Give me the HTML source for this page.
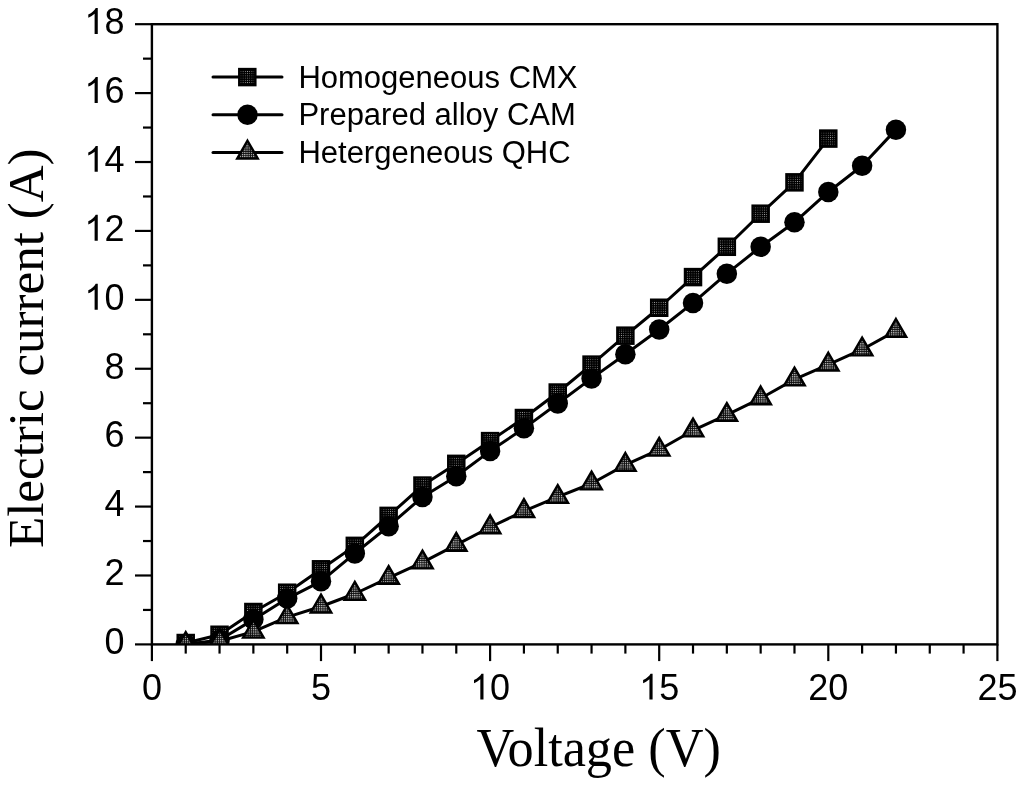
<!DOCTYPE html>
<html><head><meta charset="utf-8"><title>Electric current vs Voltage</title>
<style>
html,body{margin:0;padding:0;background:#fff;}
body{width:1024px;height:785px;overflow:hidden;}
svg{display:block;}
svg{will-change:transform;}
.t{font-family:"Liberation Sans",sans-serif;font-size:36px;fill:#000;}
.l{font-family:"Liberation Sans",sans-serif;font-size:31px;fill:#000;}
.s{font-family:"Liberation Serif",serif;font-size:52px;fill:#000;}
</style></head>
<body>
<svg width="1024" height="785" viewBox="0 0 1024 785">
<rect width="1024" height="785" fill="#fff"/>
<defs>
<pattern id="psq" width="2.2" height="2.2" patternUnits="userSpaceOnUse"><rect width="2.2" height="2.2" fill="#000"/><rect x="0.7" y="0.7" width="0.8" height="0.8" fill="#9a9a9a"/></pattern>
<pattern id="ptr" width="2.2" height="2.2" patternUnits="userSpaceOnUse"><rect width="2.2" height="2.2" fill="#0c0c0c"/><rect width="1.2" height="1.2" fill="#c8c8c8"/></pattern>
<clipPath id="clip"><rect x="151.9" y="24.2" width="845.5" height="620.2"/></clipPath>
</defs>
<g clip-path="url(#clip)">
<polyline points="185.72,643.02 219.54,634.75 253.36,612.01 287.18,592.72 321.00,569.29 354.82,545.86 388.64,515.88 422.46,485.56 456.28,463.85 490.10,441.11 523.92,418.02 557.74,392.53 591.56,364.62 625.38,335.67 659.20,307.76 693.02,277.10 726.84,246.78 760.66,213.70 794.48,182.35 828.30,138.59" fill="none" stroke="#000" stroke-width="3.0" stroke-linejoin="round" stroke-linecap="round"/>
<rect x="177.67" y="634.97" width="16.10" height="16.10" fill="url(#psq)" stroke="#000" stroke-width="2.4"/>
<rect x="211.49" y="626.70" width="16.10" height="16.10" fill="url(#psq)" stroke="#000" stroke-width="2.4"/>
<rect x="245.31" y="603.96" width="16.10" height="16.10" fill="url(#psq)" stroke="#000" stroke-width="2.4"/>
<rect x="279.13" y="584.67" width="16.10" height="16.10" fill="url(#psq)" stroke="#000" stroke-width="2.4"/>
<rect x="312.95" y="561.24" width="16.10" height="16.10" fill="url(#psq)" stroke="#000" stroke-width="2.4"/>
<rect x="346.77" y="537.81" width="16.10" height="16.10" fill="url(#psq)" stroke="#000" stroke-width="2.4"/>
<rect x="380.59" y="507.83" width="16.10" height="16.10" fill="url(#psq)" stroke="#000" stroke-width="2.4"/>
<rect x="414.41" y="477.51" width="16.10" height="16.10" fill="url(#psq)" stroke="#000" stroke-width="2.4"/>
<rect x="448.23" y="455.80" width="16.10" height="16.10" fill="url(#psq)" stroke="#000" stroke-width="2.4"/>
<rect x="482.05" y="433.06" width="16.10" height="16.10" fill="url(#psq)" stroke="#000" stroke-width="2.4"/>
<rect x="515.87" y="409.97" width="16.10" height="16.10" fill="url(#psq)" stroke="#000" stroke-width="2.4"/>
<rect x="549.69" y="384.48" width="16.10" height="16.10" fill="url(#psq)" stroke="#000" stroke-width="2.4"/>
<rect x="583.51" y="356.57" width="16.10" height="16.10" fill="url(#psq)" stroke="#000" stroke-width="2.4"/>
<rect x="617.33" y="327.62" width="16.10" height="16.10" fill="url(#psq)" stroke="#000" stroke-width="2.4"/>
<rect x="651.15" y="299.71" width="16.10" height="16.10" fill="url(#psq)" stroke="#000" stroke-width="2.4"/>
<rect x="684.97" y="269.05" width="16.10" height="16.10" fill="url(#psq)" stroke="#000" stroke-width="2.4"/>
<rect x="718.79" y="238.73" width="16.10" height="16.10" fill="url(#psq)" stroke="#000" stroke-width="2.4"/>
<rect x="752.61" y="205.65" width="16.10" height="16.10" fill="url(#psq)" stroke="#000" stroke-width="2.4"/>
<rect x="786.43" y="174.30" width="16.10" height="16.10" fill="url(#psq)" stroke="#000" stroke-width="2.4"/>
<rect x="820.25" y="130.54" width="16.10" height="16.10" fill="url(#psq)" stroke="#000" stroke-width="2.4"/>
<polyline points="185.72,644.40 219.54,639.92 253.36,619.59 287.18,598.57 321.00,581.35 354.82,553.44 388.64,526.22 422.46,496.93 456.28,476.25 490.10,451.10 523.92,428.36 557.74,403.55 591.56,378.40 625.38,354.28 659.20,329.47 693.02,302.94 726.84,273.65 760.66,246.78 794.48,222.31 828.30,191.99 862.12,165.81 895.94,129.63" fill="none" stroke="#000" stroke-width="3.0" stroke-linejoin="round" stroke-linecap="round"/>
<circle cx="185.72" cy="644.40" r="10.25" fill="#000"/>
<circle cx="219.54" cy="639.92" r="10.25" fill="#000"/>
<circle cx="253.36" cy="619.59" r="10.25" fill="#000"/>
<circle cx="287.18" cy="598.57" r="10.25" fill="#000"/>
<circle cx="321.00" cy="581.35" r="10.25" fill="#000"/>
<circle cx="354.82" cy="553.44" r="10.25" fill="#000"/>
<circle cx="388.64" cy="526.22" r="10.25" fill="#000"/>
<circle cx="422.46" cy="496.93" r="10.25" fill="#000"/>
<circle cx="456.28" cy="476.25" r="10.25" fill="#000"/>
<circle cx="490.10" cy="451.10" r="10.25" fill="#000"/>
<circle cx="523.92" cy="428.36" r="10.25" fill="#000"/>
<circle cx="557.74" cy="403.55" r="10.25" fill="#000"/>
<circle cx="591.56" cy="378.40" r="10.25" fill="#000"/>
<circle cx="625.38" cy="354.28" r="10.25" fill="#000"/>
<circle cx="659.20" cy="329.47" r="10.25" fill="#000"/>
<circle cx="693.02" cy="302.94" r="10.25" fill="#000"/>
<circle cx="726.84" cy="273.65" r="10.25" fill="#000"/>
<circle cx="760.66" cy="246.78" r="10.25" fill="#000"/>
<circle cx="794.48" cy="222.31" r="10.25" fill="#000"/>
<circle cx="828.30" cy="191.99" r="10.25" fill="#000"/>
<circle cx="862.12" cy="165.81" r="10.25" fill="#000"/>
<circle cx="895.94" cy="129.63" r="10.25" fill="#000"/>
<polyline points="185.72,644.06 219.54,641.30 253.36,631.65 287.18,617.18 321.00,606.50 354.82,593.75 388.64,577.90 422.46,562.39 456.28,544.82 490.10,527.25 523.92,511.06 557.74,496.93 591.56,483.49 625.38,464.88 659.20,449.72 693.02,430.43 726.84,414.92 760.66,398.38 794.48,379.43 828.30,364.62 862.12,349.46 895.94,330.85" fill="none" stroke="#000" stroke-width="3.0" stroke-linejoin="round" stroke-linecap="round"/>
<path d="M185.72,632.19 L196.00,649.99 L175.44,649.99 Z" fill="url(#ptr)" stroke="#000" stroke-width="2.4" stroke-linejoin="miter"/>
<path d="M219.54,629.43 L229.82,647.23 L209.26,647.23 Z" fill="url(#ptr)" stroke="#000" stroke-width="2.4" stroke-linejoin="miter"/>
<path d="M253.36,619.78 L263.64,637.58 L243.08,637.58 Z" fill="url(#ptr)" stroke="#000" stroke-width="2.4" stroke-linejoin="miter"/>
<path d="M287.18,605.31 L297.46,623.11 L276.90,623.11 Z" fill="url(#ptr)" stroke="#000" stroke-width="2.4" stroke-linejoin="miter"/>
<path d="M321.00,594.63 L331.28,612.43 L310.72,612.43 Z" fill="url(#ptr)" stroke="#000" stroke-width="2.4" stroke-linejoin="miter"/>
<path d="M354.82,581.88 L365.10,599.68 L344.54,599.68 Z" fill="url(#ptr)" stroke="#000" stroke-width="2.4" stroke-linejoin="miter"/>
<path d="M388.64,566.03 L398.92,583.83 L378.36,583.83 Z" fill="url(#ptr)" stroke="#000" stroke-width="2.4" stroke-linejoin="miter"/>
<path d="M422.46,550.53 L432.74,568.33 L412.18,568.33 Z" fill="url(#ptr)" stroke="#000" stroke-width="2.4" stroke-linejoin="miter"/>
<path d="M456.28,532.96 L466.56,550.76 L446.00,550.76 Z" fill="url(#ptr)" stroke="#000" stroke-width="2.4" stroke-linejoin="miter"/>
<path d="M490.10,515.38 L500.38,533.18 L479.82,533.18 Z" fill="url(#ptr)" stroke="#000" stroke-width="2.4" stroke-linejoin="miter"/>
<path d="M523.92,499.19 L534.20,516.99 L513.64,516.99 Z" fill="url(#ptr)" stroke="#000" stroke-width="2.4" stroke-linejoin="miter"/>
<path d="M557.74,485.06 L568.02,502.86 L547.46,502.86 Z" fill="url(#ptr)" stroke="#000" stroke-width="2.4" stroke-linejoin="miter"/>
<path d="M591.56,471.62 L601.84,489.42 L581.28,489.42 Z" fill="url(#ptr)" stroke="#000" stroke-width="2.4" stroke-linejoin="miter"/>
<path d="M625.38,453.02 L635.66,470.82 L615.10,470.82 Z" fill="url(#ptr)" stroke="#000" stroke-width="2.4" stroke-linejoin="miter"/>
<path d="M659.20,437.86 L669.48,455.66 L648.92,455.66 Z" fill="url(#ptr)" stroke="#000" stroke-width="2.4" stroke-linejoin="miter"/>
<path d="M693.02,418.56 L703.30,436.36 L682.74,436.36 Z" fill="url(#ptr)" stroke="#000" stroke-width="2.4" stroke-linejoin="miter"/>
<path d="M726.84,403.06 L737.12,420.86 L716.56,420.86 Z" fill="url(#ptr)" stroke="#000" stroke-width="2.4" stroke-linejoin="miter"/>
<path d="M760.66,386.52 L770.94,404.32 L750.38,404.32 Z" fill="url(#ptr)" stroke="#000" stroke-width="2.4" stroke-linejoin="miter"/>
<path d="M794.48,367.57 L804.76,385.37 L784.20,385.37 Z" fill="url(#ptr)" stroke="#000" stroke-width="2.4" stroke-linejoin="miter"/>
<path d="M828.30,352.75 L838.58,370.55 L818.02,370.55 Z" fill="url(#ptr)" stroke="#000" stroke-width="2.4" stroke-linejoin="miter"/>
<path d="M862.12,337.59 L872.40,355.39 L851.84,355.39 Z" fill="url(#ptr)" stroke="#000" stroke-width="2.4" stroke-linejoin="miter"/>
<path d="M895.94,318.98 L906.22,336.78 L885.66,336.78 Z" fill="url(#ptr)" stroke="#000" stroke-width="2.4" stroke-linejoin="miter"/>
</g>
<rect x="151.9" y="24.2" width="845.50" height="620.20" fill="none" stroke="#000" stroke-width="2.4"/>
<line x1="135.00" y1="644.40" x2="151.9" y2="644.40" stroke="#000" stroke-width="2.2"/>
<line x1="143.00" y1="609.94" x2="151.9" y2="609.94" stroke="#000" stroke-width="2.2"/>
<line x1="135.00" y1="575.49" x2="151.9" y2="575.49" stroke="#000" stroke-width="2.2"/>
<line x1="143.00" y1="541.03" x2="151.9" y2="541.03" stroke="#000" stroke-width="2.2"/>
<line x1="135.00" y1="506.58" x2="151.9" y2="506.58" stroke="#000" stroke-width="2.2"/>
<line x1="143.00" y1="472.12" x2="151.9" y2="472.12" stroke="#000" stroke-width="2.2"/>
<line x1="135.00" y1="437.66" x2="151.9" y2="437.66" stroke="#000" stroke-width="2.2"/>
<line x1="143.00" y1="403.21" x2="151.9" y2="403.21" stroke="#000" stroke-width="2.2"/>
<line x1="135.00" y1="368.75" x2="151.9" y2="368.75" stroke="#000" stroke-width="2.2"/>
<line x1="143.00" y1="334.30" x2="151.9" y2="334.30" stroke="#000" stroke-width="2.2"/>
<line x1="135.00" y1="299.84" x2="151.9" y2="299.84" stroke="#000" stroke-width="2.2"/>
<line x1="143.00" y1="265.38" x2="151.9" y2="265.38" stroke="#000" stroke-width="2.2"/>
<line x1="135.00" y1="230.93" x2="151.9" y2="230.93" stroke="#000" stroke-width="2.2"/>
<line x1="143.00" y1="196.47" x2="151.9" y2="196.47" stroke="#000" stroke-width="2.2"/>
<line x1="135.00" y1="162.02" x2="151.9" y2="162.02" stroke="#000" stroke-width="2.2"/>
<line x1="143.00" y1="127.56" x2="151.9" y2="127.56" stroke="#000" stroke-width="2.2"/>
<line x1="135.00" y1="93.10" x2="151.9" y2="93.10" stroke="#000" stroke-width="2.2"/>
<line x1="143.00" y1="58.65" x2="151.9" y2="58.65" stroke="#000" stroke-width="2.2"/>
<line x1="135.00" y1="24.19" x2="151.9" y2="24.19" stroke="#000" stroke-width="2.2"/>
<line x1="151.90" y1="644.4" x2="151.90" y2="661.10" stroke="#000" stroke-width="2.2"/>
<line x1="185.72" y1="644.4" x2="185.72" y2="653.60" stroke="#000" stroke-width="2.2"/>
<line x1="219.54" y1="644.4" x2="219.54" y2="653.60" stroke="#000" stroke-width="2.2"/>
<line x1="253.36" y1="644.4" x2="253.36" y2="653.60" stroke="#000" stroke-width="2.2"/>
<line x1="287.18" y1="644.4" x2="287.18" y2="653.60" stroke="#000" stroke-width="2.2"/>
<line x1="321.00" y1="644.4" x2="321.00" y2="661.10" stroke="#000" stroke-width="2.2"/>
<line x1="354.82" y1="644.4" x2="354.82" y2="653.60" stroke="#000" stroke-width="2.2"/>
<line x1="388.64" y1="644.4" x2="388.64" y2="653.60" stroke="#000" stroke-width="2.2"/>
<line x1="422.46" y1="644.4" x2="422.46" y2="653.60" stroke="#000" stroke-width="2.2"/>
<line x1="456.28" y1="644.4" x2="456.28" y2="653.60" stroke="#000" stroke-width="2.2"/>
<line x1="490.10" y1="644.4" x2="490.10" y2="661.10" stroke="#000" stroke-width="2.2"/>
<line x1="523.92" y1="644.4" x2="523.92" y2="653.60" stroke="#000" stroke-width="2.2"/>
<line x1="557.74" y1="644.4" x2="557.74" y2="653.60" stroke="#000" stroke-width="2.2"/>
<line x1="591.56" y1="644.4" x2="591.56" y2="653.60" stroke="#000" stroke-width="2.2"/>
<line x1="625.38" y1="644.4" x2="625.38" y2="653.60" stroke="#000" stroke-width="2.2"/>
<line x1="659.20" y1="644.4" x2="659.20" y2="661.10" stroke="#000" stroke-width="2.2"/>
<line x1="693.02" y1="644.4" x2="693.02" y2="653.60" stroke="#000" stroke-width="2.2"/>
<line x1="726.84" y1="644.4" x2="726.84" y2="653.60" stroke="#000" stroke-width="2.2"/>
<line x1="760.66" y1="644.4" x2="760.66" y2="653.60" stroke="#000" stroke-width="2.2"/>
<line x1="794.48" y1="644.4" x2="794.48" y2="653.60" stroke="#000" stroke-width="2.2"/>
<line x1="828.30" y1="644.4" x2="828.30" y2="661.10" stroke="#000" stroke-width="2.2"/>
<line x1="862.12" y1="644.4" x2="862.12" y2="653.60" stroke="#000" stroke-width="2.2"/>
<line x1="895.94" y1="644.4" x2="895.94" y2="653.60" stroke="#000" stroke-width="2.2"/>
<line x1="929.76" y1="644.4" x2="929.76" y2="653.60" stroke="#000" stroke-width="2.2"/>
<line x1="963.58" y1="644.4" x2="963.58" y2="653.60" stroke="#000" stroke-width="2.2"/>
<line x1="997.40" y1="644.4" x2="997.40" y2="661.10" stroke="#000" stroke-width="2.2"/>
<text x="104.38" y="654.20" class="t">0</text>
<text x="104.38" y="585.29" class="t">2</text>
<text x="104.38" y="516.38" class="t">4</text>
<text x="104.38" y="447.46" class="t">6</text>
<text x="104.38" y="378.55" class="t">8</text>
<path d="M763 0L583 0L583 1147Q518 1085 412.5 1023Q307 961 223 930L223 1104Q374 1175 487 1276Q600 1377 647 1472L763 1472Z" transform="translate(84.36,309.64) scale(0.017578,-0.017578)" fill="#000"/>
<text x="104.38" y="309.64" class="t">0</text>
<path d="M763 0L583 0L583 1147Q518 1085 412.5 1023Q307 961 223 930L223 1104Q374 1175 487 1276Q600 1377 647 1472L763 1472Z" transform="translate(84.36,240.73) scale(0.017578,-0.017578)" fill="#000"/>
<text x="104.38" y="240.73" class="t">2</text>
<path d="M763 0L583 0L583 1147Q518 1085 412.5 1023Q307 961 223 930L223 1104Q374 1175 487 1276Q600 1377 647 1472L763 1472Z" transform="translate(84.36,171.82) scale(0.017578,-0.017578)" fill="#000"/>
<text x="104.38" y="171.82" class="t">4</text>
<path d="M763 0L583 0L583 1147Q518 1085 412.5 1023Q307 961 223 930L223 1104Q374 1175 487 1276Q600 1377 647 1472L763 1472Z" transform="translate(84.36,102.90) scale(0.017578,-0.017578)" fill="#000"/>
<text x="104.38" y="102.90" class="t">6</text>
<path d="M763 0L583 0L583 1147Q518 1085 412.5 1023Q307 961 223 930L223 1104Q374 1175 487 1276Q600 1377 647 1472L763 1472Z" transform="translate(84.36,33.99) scale(0.017578,-0.017578)" fill="#000"/>
<text x="104.38" y="33.99" class="t">8</text>
<text x="141.89" y="699.50" class="t">0</text>
<text x="310.99" y="699.50" class="t">5</text>
<path d="M763 0L583 0L583 1147Q518 1085 412.5 1023Q307 961 223 930L223 1104Q374 1175 487 1276Q600 1377 647 1472L763 1472Z" transform="translate(470.08,699.50) scale(0.017578,-0.017578)" fill="#000"/>
<text x="490.10" y="699.50" class="t">0</text>
<path d="M763 0L583 0L583 1147Q518 1085 412.5 1023Q307 961 223 930L223 1104Q374 1175 487 1276Q600 1377 647 1472L763 1472Z" transform="translate(639.18,699.50) scale(0.017578,-0.017578)" fill="#000"/>
<text x="659.20" y="699.50" class="t">5</text>
<text x="808.28" y="699.50" class="t">2</text>
<text x="828.30" y="699.50" class="t">0</text>
<text x="977.38" y="699.50" class="t">2</text>
<text x="997.40" y="699.50" class="t">5</text>
<text x="476.5" y="765.8" class="s" style="font-size:54px" textLength="244.3" lengthAdjust="spacingAndGlyphs">Voltage (V)</text>
<text transform="translate(43.2,548) rotate(-90)" x="0" y="0" class="s" style="font-size:51px" textLength="399.5" lengthAdjust="spacingAndGlyphs">Electric current (A)</text>
<line x1="213" y1="77.1" x2="282" y2="77.1" stroke="#000" stroke-width="3.0" stroke-linecap="round"/>
<rect x="239.25" y="69.05" width="16.10" height="16.10" fill="url(#psq)" stroke="#000" stroke-width="2.4"/>
<text x="298.4" y="87.7" class="l">Homogeneous CMX</text>
<line x1="213" y1="114.85" x2="282" y2="114.85" stroke="#000" stroke-width="3.0" stroke-linecap="round"/>
<circle cx="247.50" cy="114.85" r="10.25" fill="#000"/>
<text x="298.4" y="125.0" class="l">Prepared alloy CAM</text>
<line x1="213" y1="152.6" x2="282" y2="152.6" stroke="#000" stroke-width="3.0" stroke-linecap="round"/>
<path d="M247.50,140.73 L257.78,158.53 L237.22,158.53 Z" fill="url(#ptr)" stroke="#000" stroke-width="2.4" stroke-linejoin="miter"/>
<text x="298.4" y="162.5" class="l">Hetergeneous QHC</text>
</svg>
</body></html>
